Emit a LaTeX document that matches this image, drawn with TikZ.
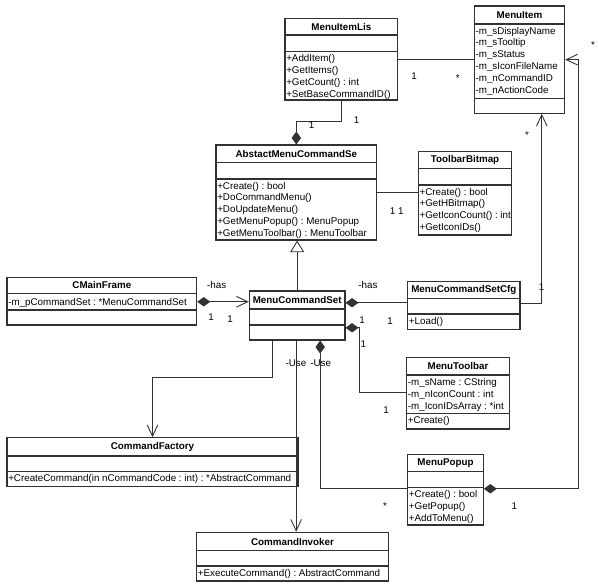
\documentclass[tikz,border=0pt]{standalone}
\usepackage{fontspec}
\setmainfont{Liberation Sans}
\usetikzlibrary{arrows.meta,calc,fit}
\definecolor{ln}{RGB}{50,50,50}
\frenchspacing
\tikzset{
 txt/.style={font=\fontsize{7.35}{9}\selectfont\frenchspacing, inner sep=0pt, text=black},
 clsbox/.style={draw=ln, line width=0.8pt, inner sep=0pt},
 clsline/.style={draw=ln, line width=0.8pt},
 clstitle/.style={txt, font=\fontsize{7.35}{9}\selectfont\bfseries},
 clstext/.style={txt, anchor=base west},
 lbl/.style={txt},
 lblstar/.style={txt, anchor=base},
 conn/.style={draw=ln, line width=0.65pt},
 assoc/.style={conn, -{Straight Barb[length=8.5pt,width=8pt]}},
 compo/.style={conn, {Diamond[length=9.75pt,width=7pt]}-},
 compoarr/.style={conn, {Diamond[length=9.75pt,width=7pt]}-{Straight Barb[length=8.5pt,width=8pt]}},
 gen/.style={conn, -{Triangle[open,length=8.75pt,width=10.5pt,fill=white]}},
}
% name, x1, y1, x2, y2, title bottom, attribute bottom, title
\newcommand\umlbox[8]{%
 \node[clsbox, fit={(#2,#3) (#4,#5)}] (#1) {};
 \draw[clsline] (#2,#6) -- (#4,#6);
 \draw[clsline] (#2,#7) -- (#4,#7);
 \node[clstitle] (#1-t) at ({(#2+#4)/2},{(#3+#6)/2}) {#8};
}
% name prefix, x, first baseline, list of lines
\newcommand\umllines[4]{%
 \foreach \t [count=\i] in {#4} {\node[clstext] (#1\i) at ({#2},{#3+(\i-1)*11.9}) {\t};}
}
\begin{document}
\begin{tikzpicture}[x=0.75pt,y=-0.75pt]
\fill[white] (0,0) rectangle (599,586);
\useasboundingbox (0,0) rectangle (599,586);

% classes
\umlbox{mil}{285}{18.3}{397.7}{100}{35}{51.7}{MenuItemLis}
\umllines{mil-m}{286}{61.7}{+AddItem(),+GetItems(),+GetCount() : int,+SetBaseCommandID()}

\umlbox{mi}{474.3}{6}{564.7}{113.3}{24}{98.3}{MenuItem}
\umllines{mi-a}{475.3}{34}{-m\_sDisplayName,-m\_sTooltip,-m\_sStatus,-m\_sIconFileName,-m\_nCommandID,-m\_nActionCode}

\umlbox{amcs}{216}{145}{376.7}{240}{162.3}{179}{AbstactMenuCommandSe}
\umllines{amcs-m}{217}{189}{+Create() : bool,+DoCommandMenu(),+DoUpdateMenu(),+GetMenuPopup() : MenuPopup,+GetMenuToolbar() : MenuToolbar}

\umlbox{tb}{418.3}{151.7}{511.7}{235}{168.3}{185}{ToolbarBitmap}
\umllines{tb-m}{419.3}{195}{+Create() : bool,+GetHBitmap(),+GetIconCount() : int,+GetIconIDs()}

\umlbox{cmf}{7}{277.3}{196.7}{325}{293.3}{310}{CMainFrame}
\umllines{cmf-a}{8}{305}{-m\_pCommandSet : *MenuCommandSet}

\umlbox{mcs}{249.3}{291}{345}{340}{309}{325}{MenuCommandSet}

\umlbox{cfg}{407.7}{281.7}{520}{329.3}{298.3}{314}{MenuCommandSetCfg}
\umllines{cfg-m}{408.7}{324}{+Load()}

\umlbox{mt}{406.7}{357.7}{509.3}{429}{375}{413.3}{MenuToolbar}
\umllines{mt-a}{407.7}{385.5}{-m\_sName : CString,-m\_nIconCount : int,-m\_IconIDsArray : *int}
\umllines{mt-m}{407.7}{423.3}{+Create()}

\umlbox{cf}{7}{437.7}{298}{486.7}{456}{471.7}{CommandFactory}
\umllines{cf-m}{8}{481.5}{+CreateCommand(in nCommandCode : int) : *AbstractCommand}

\umlbox{mp}{407.7}{454.3}{483.3}{525}{471.7}{487.3}{MenuPopup}
\umllines{mp-m}{408.7}{497.3}{+Create() : bool,+GetPopup(),+AddToMenu()}

\umlbox{ci}{196.7}{532.3}{388.3}{581}{550.7}{566}{CommandInvoker}
\umllines{ci-m}{197.7}{576}{+ExecuteCommand() : AbstractCommand}

% connectors
\draw[conn] (mil.east) -- (mil.east -| mi.west);
\draw[compo] (amcs.north) |- ($(mil.south west)+(56.7,20.7)$) -- ($(mil.south west)+(56.7,0)$);
\draw[conn] ($(amcs.north east)+(0,47.7)$) coordinate (c1) -- (c1 -| tb.west);
\draw[gen] (mcs.north) -- (mcs.north |- amcs.south);
\draw[compoarr] ($(cmf.north east)+(0,25)$) coordinate (e1) -- (e1 -| mcs.west);
\draw[compo] ($(mcs.north east)+(0,12.3)$) coordinate (f1) -- (f1 -| cfg.west);
\draw[compo] ($(mcs.north east)+(0,37.3)$) -- ++(13.5,0) |- ($(mt.north west)+(0,35.6)$);
\draw[assoc] ($(mcs.south west)+(24,0)$) |- ($(cf.north)+(0,-59.4)$) -- (cf.north);
\draw[assoc] ($(mcs.south west)+(47.4,0)$) coordinate (i1) -- (i1 |- ci.north);
\draw[compo] ($(mcs.south west)+(71.4,0)$) |- ($(mp.north west)+(0,35)$);
\draw[compoarr] ($(mp.north east)+(0,35)$) -| ($(mi.east)+(13,0)$) -- (mi.east);
\draw[assoc] ($(cfg.north east)+(0,22.3)$) -| ($(mi.south west)+(68,0)$);

% multiplicities and role names
\node[lbl] (l1) at (414,76) {1};
\node[lblstar] (s1) at (457.7,81.6) {*};
\node[lbl] (l2) at (311.7,125) {1};
\node[lbl] (l3) at (356.7,120) {1};
\node[lbl] (l4) at (396.7,211) {1 1};
\node[lbl] (h1) at (216.7,285) {-has};
\node[lbl] (l5) at (211,317.3) {1};
\node[lbl] (l6) at (230,319) {1};
\node[lbl] (h2) at (368,285) {-has};
\node[lbl] (l7) at (362,320) {1};
\node[lbl] (l8) at (390,321) {1};
\node[lbl] (l9) at (363.3,344.3) {1};
\node[lbl] (l10) at (386,410) {1};
\node[lbl] (u1) at (296,362.7) {-Use};
\node[lbl] (u2) at (320.7,362.7) {-Use};
\node[lblstar] (s2) at (385,509) {*};
\node[lbl] (l11) at (514.3,506) {1};
\node[lblstar] (s3) at (593,48.6) {*};
\node[lbl] (l12) at (541.5,286.7) {1};
\node[lblstar] (s4) at (527,138.6) {*};
\end{tikzpicture}
\end{document}
